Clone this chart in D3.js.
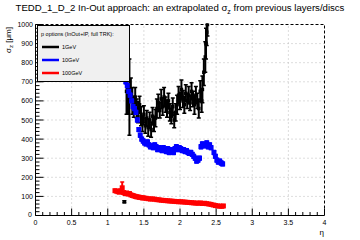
<!DOCTYPE html>
<html>
<head>
<meta charset="utf-8">
<script src="https://cdn.jsdelivr.net/npm/d3@7"></script>
<style>
  body { margin: 0; background: #fff; }
  svg { display: block; font-family: "Liberation Sans", Arial, sans-serif; }
</style>
</head>
<body>
<div id="chart"></div>
<script>
// data
const etaBlack = [1.23,1.26,1.28,1.30,1.32,1.34,1.36,1.38,1.40,1.42,1.44,1.46,1.48,1.50,1.52,1.54,1.56,1.58,1.60,1.62,1.64,1.66,1.68,1.70,1.72,1.74,1.76,1.78,1.80,1.82,1.84,1.86,1.88,1.90,1.92,1.94,1.96,1.98,2.00,2.02,2.04,2.06,2.08,2.10,2.12,2.14,2.16,2.18,2.20,2.22,2.24,2.26,2.28,2.30,2.31,2.33,2.35,2.36,2.37,2.38];
const sigBlack = [72,650,600,620,660,600,570,620,560,540,580,520,480,530,470,510,460,500,450,520,480,510,560,590,550,610,570,620,580,560,600,540,520,570,500,540,580,630,600,660,610,580,640,600,630,590,650,610,580,630,600,560,650,600,660,750,830,900,960,1000];
const errBlack = [5,120,70,200,60,70,55,50,50,55,45,50,40,45,40,40,45,40,40,45,40,45,50,45,40,50,45,50,40,45,40,45,40,45,40,45,50,45,45,50,45,45,45,40,45,40,45,40,50,45,40,50,55,60,70,70,80,80,70,60];

const etaBlue = [1.25,1.27,1.29,1.31,1.33,1.35,1.37,1.39,1.41,1.43,1.45,1.47,1.49,1.51,1.53,1.55,1.57,1.59,1.61,1.63,1.65,1.67,1.69,1.71,1.73,1.75,1.77,1.79,1.81,1.83,1.85,1.87,1.89,1.91,1.93,1.95,1.97,1.99,2.01,2.03,2.05,2.07,2.09,2.11,2.13,2.15,2.17,2.19,2.21,2.23,2.25,2.27,2.29,2.31,2.33,2.35,2.37,2.39,2.41,2.43,2.47,2.49,2.51,2.53,2.55,2.57,2.59];
const sigBlue = [700,680,650,630,600,570,560,540,500,450,420,400,390,380,375,385,370,360,365,355,370,360,345,355,350,340,355,345,335,350,330,340,345,330,350,360,345,355,350,340,345,335,340,330,325,330,320,310,300,285,290,300,360,375,365,370,380,360,370,355,330,310,290,280,285,275,270];
const errBlue = 10;

const etaRed = [1.10,1.12,1.14,1.16,1.18,1.20,1.22,1.24,1.26,1.28,1.30,1.32,1.34,1.36,1.38,1.40,1.42,1.44,1.46,1.48,1.50,1.53,1.56,1.59,1.62,1.65,1.68,1.71,1.74,1.77,1.80,1.83,1.86,1.89,1.92,1.95,1.98,2.01,2.04,2.07,2.10,2.13,2.16,2.19,2.22,2.25,2.28,2.31,2.34,2.37,2.40,2.43,2.46,2.49,2.52,2.55,2.58,2.60];
const sigRed = [130,128,125,122,130,145,120,115,118,112,115,108,105,103,100,98,97,95,94,92,92,90,88,86,87,85,83,82,80,79,78,77,76,75,74,73,72,72,71,70,69,68,67,66,65,64,66,63,64,62,60,58,55,52,50,49,48,50];
const errRed = sigRed.map((d, i) => i === 5 ? 30 : 5);

const series = [
  {name: "1GeV", color: "#000", eta: etaBlack, sig: sigBlack, err: errBlack, size: 3.5},
  {name: "10GeV", color: "#0000ff", eta: etaBlue, sig: sigBlue, err: etaBlue.map(() => errBlue), size: 5},
  {name: "100GeV", color: "#ff0000", eta: etaRed, sig: sigRed, err: errRed, size: 5}
];

const W = 360, H = 240;
const svg = d3.select("#chart").append("svg").attr("width", W).attr("height", H);

const x = d3.scaleLinear().domain([0, 4]).range([35.5, 324.5]);
const y = d3.scaleLinear().domain([0, 1000]).range([215.5, 24.5]);

// grid
const grid = svg.append("g").attr("stroke", "#bbb").attr("stroke-dasharray", "1,3").attr("stroke-width", 1);
d3.range(0.5, 4, 0.5).forEach(v => grid.append("line").attr("x1", x(v)).attr("x2", x(v)).attr("y1", y(0)).attr("y2", y(1000)));
d3.range(100, 1000, 100).forEach(v => grid.append("line").attr("x1", x(0)).attr("x2", x(4)).attr("y1", y(v)).attr("y2", y(v)));

// frame top/right dashed
svg.append("path")
  .attr("d", `M${x(0)},${y(1000)}H${x(4)}V${y(0)}`)
  .attr("fill", "none").attr("stroke", "#000").attr("stroke-dasharray", "3,2");

// data
svg.append("clipPath").attr("id", "clip").append("rect")
  .attr("x", x(0)).attr("y", y(1000) - 1).attr("width", x(4) - x(0)).attr("height", y(0) - y(1000) + 1);
const plot = svg.append("g").attr("clip-path", "url(#clip)");

series.forEach(s => {
  const pts = s.eta.map((e, i) => ({e: e, v: s.sig[i], er: s.err[i]}));
  const g = plot.append("g");
  g.selectAll("line.eb").data(pts).join("line")
    .attr("x1", d => x(d.e)).attr("x2", d => x(d.e))
    .attr("y1", d => y(d.v - d.er)).attr("y2", d => y(d.v + d.er))
    .attr("stroke", s.color).attr("stroke-width", 2);
  g.selectAll("path.cap").data(pts).join("path")
    .attr("d", d => `M${x(d.e) - 2},${y(d.v - d.er)}h4M${x(d.e) - 2},${y(d.v + d.er)}h4`)
    .attr("stroke", s.color).attr("stroke-width", 1.5);
  g.selectAll("rect").data(pts).join("rect")
    .attr("x", d => x(d.e) - s.size / 2).attr("y", d => y(d.v) - s.size / 2)
    .attr("width", s.size).attr("height", s.size).attr("fill", s.color);
});

// axes
const ax = svg.append("g").attr("stroke", "#000").attr("stroke-width", 1);
ax.append("line").attr("x1", x(0)).attr("x2", x(4)).attr("y1", y(0)).attr("y2", y(0));
ax.append("line").attr("x1", x(0)).attr("x2", x(0)).attr("y1", y(0)).attr("y2", y(1000));
d3.range(0, 41).forEach(i => {
  const len = i % 5 === 0 ? 7 : 3.5;
  ax.append("line").attr("x1", x(i / 10)).attr("x2", x(i / 10)).attr("y1", y(0)).attr("y2", y(0) - len);
});
d3.range(0, 51).forEach(i => {
  const len = i % 5 === 0 ? 8 : 4;
  ax.append("line").attr("x1", x(0)).attr("x2", x(0) + len).attr("y1", y(i * 20)).attr("y2", y(i * 20));
});

const xTicks = x.ticks(8);
svg.selectAll("text.xt").data(xTicks).join("text")
  .attr("x", d => x(d)).attr("y", 225).attr("text-anchor", "middle")
  .attr("font-size", 7).attr("fill", "#000")
  .text(d => d3.format("~g")(d));
svg.selectAll("text.yt").data(y.ticks(10)).join("text")
  .attr("x", d => d === 0 ? 32 : 33).attr("y", d => y(d) + (d === 0 ? 1 : 2.5)).attr("text-anchor", "end")
  .attr("font-size", 7).attr("fill", "#000")
  .text(d => d);

svg.append("text").attr("x", 324).attr("y", 235).attr("text-anchor", "end")
  .attr("font-size", 8).text("η");

const yl = svg.append("text").attr("transform", "translate(11,27) rotate(-90)")
  .attr("text-anchor", "end").attr("font-size", 8);
yl.append("tspan").text("σ");
yl.append("tspan").attr("font-size", 6).attr("dy", 2).text("z");
yl.append("tspan").attr("dy", -2).text(" [μm]");

// title
const title = svg.append("text").attr("x", 180).attr("y", 11).attr("text-anchor", "middle")
  .attr("font-size", 9.6).attr("fill", "#000");
title.append("tspan").text("TEDD_1_D_2 In-Out approach: an extrapolated σ");
title.append("tspan").attr("font-size", 7).attr("dy", 2.5).text("z");
title.append("tspan").attr("dy", -2.5).text(" from previous layers/discs");

// legend
const leg = svg.append("g");
leg.append("rect").attr("x", 37.5).attr("y", 25.5).attr("width", 92).attr("height", 56)
  .attr("fill", "#f0f0f0").attr("stroke", "#000");
leg.append("text").attr("x", 41).attr("y", 36).attr("font-size", 5.5).text("p options (InOut+IP, full TRK):");
series.forEach((s, i) => {
  const ly = 47 + i * 13;
  leg.append("line").attr("x1", 42).attr("x2", 59).attr("y1", ly).attr("y2", ly)
    .attr("stroke", s.color).attr("stroke-width", 2.5);
  leg.append("text").attr("x", 62).attr("y", ly + 2).attr("font-size", 5.5).text(s.name);
});
</script>
</body>
</html>
